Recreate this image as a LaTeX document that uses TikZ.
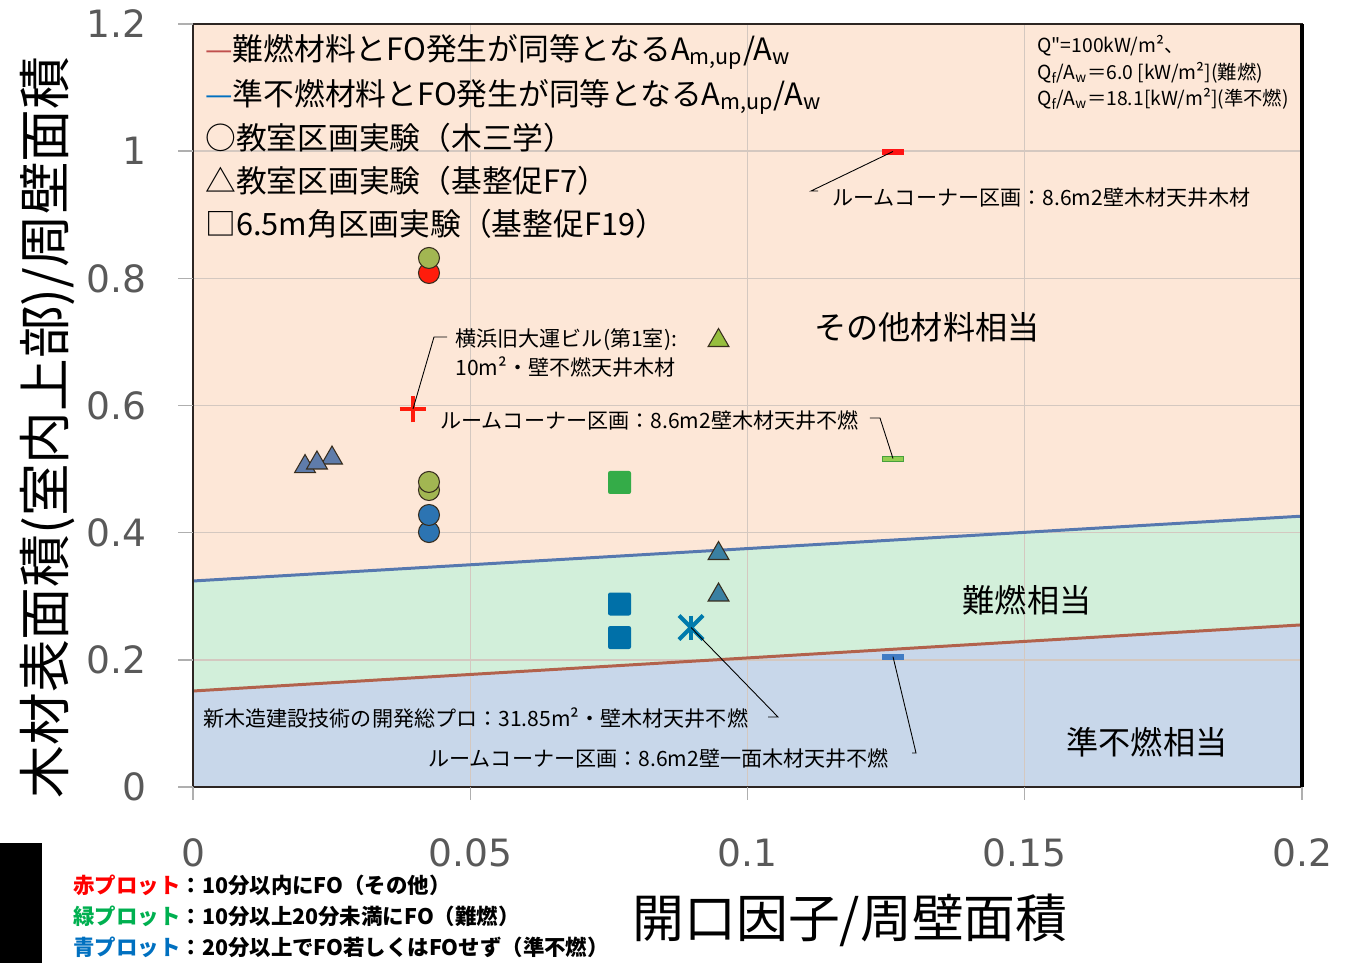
\documentclass[tikz,border=0pt]{standalone}
\usepackage{fontspec}
\setmainfont{Noto Sans CJK JP}
\newfontfamily\notefont{Noto Sans CJK JP}
\newfontfamily\numfont{DejaVu Sans}
\usetikzlibrary{shapes}
\usetikzlibrary{arrows}
\usetikzlibrary{positioning}

\definecolor{zoneorange}{RGB}{253,231,215}
\definecolor{zonegreen}{RGB}{210,239,218}
\definecolor{zoneblue}{RGB}{200,215,234}
\definecolor{gridc}{RGB}{212,200,192}
\definecolor{framec}{RGB}{45,38,35}
\definecolor{lineblue}{RGB}{86,120,175}
\definecolor{linered}{RGB}{178,98,76}
\definecolor{ticklbl}{RGB}{89,89,89}
\definecolor{tickc}{RGB}{175,175,175}
\definecolor{mkedge}{RGB}{55,45,30}
\definecolor{mkolive}{RGB}{162,182,82}
\definecolor{mkred}{RGB}{255,28,12}
\definecolor{mkblue}{RGB}{44,116,178}
\definecolor{mkslate}{RGB}{95,124,170}
\definecolor{mkygreen}{RGB}{150,190,62}
\definecolor{mkteal}{RGB}{58,128,162}
\definecolor{mkgreen}{RGB}{52,172,72}
\definecolor{mksqblue}{RGB}{0,112,168}
\definecolor{mkxblue}{RGB}{0,122,172}
\definecolor{barred}{RGB}{255,20,20}
\definecolor{bargreen}{RGB}{146,206,80}
\definecolor{bargreenedge}{RGB}{70,160,60}
\definecolor{barblue}{RGB}{64,124,196}
\definecolor{plotred}{RGB}{255,0,0}
\definecolor{plotgreen}{RGB}{0,176,80}
\definecolor{plotblue}{RGB}{0,112,192}
\definecolor{dashred}{RGB}{192,80,77}
\definecolor{dashblue}{RGB}{0,112,192}

\begin{document}
\begin{tikzpicture}[x=110.9cm, y=12.717cm,
  circ/.style={circle, draw=mkedge, fill=#1, line width=0.6pt, minimum size=0.42cm, inner sep=0pt},
  tri/.style={regular polygon, regular polygon sides=3, draw=mkedge, fill=#1, line width=0.6pt, minimum size=0.48cm, inner sep=0pt},
  sq/.style={rectangle, rounded corners=1.2pt, fill=#1, minimum size=0.46cm, inner sep=0pt},
  bar/.style 2 args={rectangle, draw=#2, fill=#1, line width=0.4pt, minimum width=0.43cm, minimum height=0.1cm, inner sep=0pt},
  xo/.style 2 args={cross out, draw=#1, line width=2.3pt, minimum size=#2, inner sep=0pt},
  lgd/.style={anchor=base west, inner sep=0pt, font=\fontsize{17.5}{20}\selectfont},
  note/.style={anchor=base west, inner sep=0pt, font=\notefont\fontsize{11}{13}\selectfont},
  ann/.style={anchor=base west, inner sep=0pt, font=\fontsize{12}{14}\selectfont},
  zone/.style={anchor=base, inner sep=0pt, font=\fontsize{18.3}{22}\selectfont},
  tlbl/.style={inner sep=0pt, text=ticklbl, font=\numfont\fontsize{21.4}{24}\selectfont},
  blgd/.style={anchor=base west, inner sep=0pt, font=\bfseries\fontsize{12.2}{14}\selectfont},
  ttl/.style={anchor=base, inner sep=0pt, font=\fontsize{30}{32}\selectfont},
  lead/.style={black, line width=0.5pt}]

  \useasboundingbox (-0.034806,-0.2768) rectangle (0.208837,1.237714);

  %% zones
  \fill[zoneorange] (0,0) rectangle (0.2,1.2);
  \fill[zonegreen] (0,0.151) -- (0,0.324) -- (0.2,0.426) -- (0.2,0.255) -- cycle;
  \fill[zoneblue] (0,0) -- (0,0.151) -- (0.2,0.255) -- (0.2,0) -- cycle;

  %% grid
  \foreach \yy in {0.2,0.4,0.6,0.8,1.0}
    \draw[gridc, line width=0.8pt] (0,\yy) -- (0.2,\yy);
  \foreach \xx in {0.05,0.1,0.15}
    \draw[gridc, line width=0.8pt] (\xx,0) -- (\xx,1.2);

  %% boundary lines
  \draw[lineblue, line width=1.7pt] (0,0.324) -- (0.2,0.426);
  \draw[linered, line width=1.7pt] (0,0.151) -- (0.2,0.255);

  %% frame and ticks
  \draw[framec, line width=1.2pt] (0,0) rectangle (0.2,1.2);
  \draw[black, line width=2pt] (0.2,0) -- (0.2,1.2);
  \foreach \yy in {0,0.2,0.4,0.6,0.8,1.0,1.2}
    \draw[tickc, line width=0.8pt] (-0.0027,\yy) -- (0,\yy);
  \foreach \xx in {0,0.05,0.1,0.15,0.2}
    \draw[tickc, line width=0.8pt] (\xx,0) -- (\xx,-0.0204);

  \foreach \yy [count=\i] in {0,0.2,0.4,0.6,0.8,1,1.2}
    \node[tlbl, anchor=base east] (ytick\i) at (-0.0083,\yy-0.02155) {\yy};
  \foreach \xx [count=\i] in {0,0.05,0.1,0.15,0.2}
    \node[tlbl, anchor=base] (xtick\i) at (\xx,-0.12456) {\xx};

  %% markers: circles
  \node[circ=mkred] (c1) at (0.04256,0.8084) {};
  \node[circ=mkolive] (c2) at (0.04256,0.8320) {};
  \node[circ=mkolive] (c3) at (0.04256,0.4671) {};
  \node[circ=mkolive] (c4) at (0.04256,0.4797) {};
  \node[circ=mkblue] (c5) at (0.04256,0.4010) {};
  \node[circ=mkblue] (c6) at (0.04256,0.4278) {};

  %% markers: triangles
  \foreach \i/\xx/\yy in {1/0.02020/0.5040, 3/0.02507/0.5174, 2/0.02236/0.5096}
    \node[tri=mkslate] (ts\i) at (\xx,\yy) {};
  \node[tri=mkygreen] (ty1) at (0.09477,0.7022) {};
  \node[tri=mkteal] (tt1) at (0.09477,0.3672) {};
  \node[tri=mkteal] (tt2) at (0.09477,0.3020) {};

  %% markers: squares
  \node[sq=mkgreen] (sg1) at (0.07692,0.4789) {};
  \node[sq=mksqblue] (sb1) at (0.07692,0.2878) {};
  \node[sq=mksqblue] (sb2) at (0.07692,0.2351) {};

  %% single points
  \node[xo={mkxblue}{0.4cm}] (xm) at (0.08981,0.2508) {};
  \draw[mkxblue, line width=2.3pt] (xm.north) -- (xm.south);
  \node[xo={mkred}{0.3cm}, rotate=45] (plus) at (0.03968,0.5945) {};
  \node[bar={barred}{barred}] (rbar) at (0.12624,0.99945) {};
  \node[bar={bargreen}{bargreenedge}] (gbar) at (0.12624,0.5166) {};
  \node[bar={barblue}{barblue}] (bbar) at (0.12624,0.2050) {};

  %% legend
  \node[lgd] (lg1) at (0.00216,1.14272) {\textcolor{dashred}{—}難燃材料とFO発生が同等となるA\textsubscript{m,up}/A\textsubscript{w}};
  \node[lgd] (lg2) at (0.00216,1.07195) {\textcolor{dashblue}{—}準不燃材料とFO発生が同等となるA\textsubscript{m,up}/A\textsubscript{w}};
  \node[lgd] (lg3) at (0.00216,1.00275) {○教室区画実験（木三学）};
  \node[lgd] (lg4) at (0.00216,0.93513) {△教室区画実験（基整促F7）};
  \node[lgd] (lg5) at (0.00216,0.86750) {□6.5m角区画実験（基整促F19）};

  \node[note] (nt1) at (0.15221,1.15499) {Q"=100kW/m²、};
  \node[note] (nt2) at (0.15221,1.11253) {Q\textsubscript{f}/A\textsubscript{w}＝6.0 [kW/m²](難燃)};
  \node[note] (nt3) at (0.15221,1.07164) {Q\textsubscript{f}/A\textsubscript{w}＝18.1[kW/m²](準不燃)};

  %% annotations
  \node[ann] (an1) at (0.11524,0.91516) {ルームコーナー区画：8.6m2壁木材天井木材};
  \node[ann] (an2a) at (0.04725,0.69340) {横浜旧大運ビル(第1室):};
  \node[ann] (an2b) at (0.04725,0.64779) {10m²・壁不燃天井木材};
  \node[ann] (an3) at (0.04454,0.56444) {ルームコーナー区画：8.6m2壁木材天井不燃};
  \node[ann] (an4) at (0.0018,0.09578) {新木造建設技術の開発総プロ：31.85m²・壁木材天井不燃};
  \node[ann] (an5) at (0.04238,0.03287) {ルームコーナー区画：8.6m2壁一面木材天井不燃};

  \coordinate (ld1a) at (0.11145,0.93733);
  \coordinate (ld1b) at (0.11271,0.93733);
  \coordinate (ld2a) at (0.04346,0.70771);
  \coordinate (ld2b) at (0.04581,0.70771);
  \coordinate (ld3a) at (0.12209,0.58033);
  \coordinate (ld3b) at (0.12389,0.58033);
  \coordinate (ld4a) at (0.10370,0.11009);
  \coordinate (ld4b) at (0.10550,0.11009);
  \coordinate (ld5a) at (0.12967,0.05347);
  \coordinate (ld5b) at (0.13039,0.05347);
  \draw[lead] (rbar.center) -- (ld1a) -- (ld1b);
  \draw[lead] (plus.center) -- (ld2a) -- (ld2b);
  \draw[lead] (ld3a) -- (ld3b) -- (gbar.center);
  \draw[lead] (ld4a) -- (ld4b) -- (xm.center);
  \draw[lead] (ld5a) -- (ld5b) -- (bbar.center);

  %% zone labels
  \node[zone] (zn1) at (0.13237,0.70410) {その他材料相当};
  \node[zone] (zn2) at (0.15041,0.27397) {難燃相当};
  \node[zone] (zn3) at (0.17205,0.05143) {準不燃相当};

  %% axis titles
  \node[ttl, rotate=90] (ytl) at (-0.02312,0.56539) {木材表面積(室内上部)/周壁面積};
  \node[ttl, font=\fontsize{29.5}{32}\selectfont] (xtl) at (0.11849,-0.23669) {開口因子/周壁面積};

  %% plot colour key
  \node[blgd] (bl1) at (-0.02164,-0.16671) {\textcolor{plotred}{赤プロット}：10分以内にFO（その他）};
  \node[blgd] (bl2) at (-0.02164,-0.21546) {\textcolor{plotgreen}{緑プロット}：10分以上20分未満にFO（難燃）};
  \node[blgd] (bl3) at (-0.02164,-0.26421) {\textcolor{plotblue}{青プロット}：20分以上でFO若しくはFOせず（準不燃）};

  \fill[black] (-0.034806,-0.08807) rectangle (-0.02723,-0.2768);
\end{tikzpicture}
\end{document}
